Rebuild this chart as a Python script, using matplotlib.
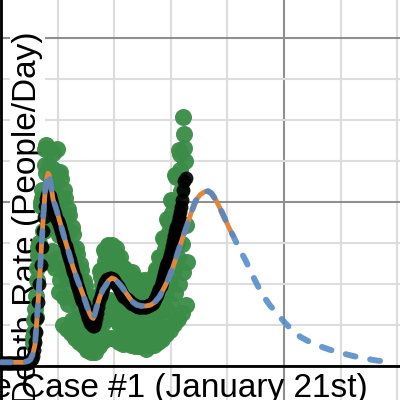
import numpy as np
import matplotlib
matplotlib.use('Agg')
import matplotlib.pyplot as plt
from matplotlib.ticker import MultipleLocator

plt.rcParams['font.family'] = ['Liberation Sans', 'DejaVu Sans']

# daily deaths (raw), days since Jan 21st, starting at day 56
green_start = 56
green_val = [
    280, 350, 420, 560, 700, 600, 850,
    1050, 1200, 1350, 1450, 1500, 1350, 1450,
    2000, 1950, 2050, 2150, 1950, 1650, 1650,
    2450, 2650, 2350, 2700, 1950, 1700, 1900,
    2650, 2450, 2300, 2150, 1850, 1250, 1400,
    2400, 2600, 2150, 1950, 1750, 1200, 1300,
    2250, 2650, 2350, 1850, 1600, 900, 1050,
    2370, 2280, 2040, 1770, 1190, 500, 840,
    2140, 2050, 1830, 1580, 1070, 450, 750,
    1920, 1840, 1640, 1420, 950, 400, 560,
    1690, 1610, 1430, 1230, 820, 340, 570,
    1440, 1370, 1210, 1050, 700, 290, 490,
    1240, 1170, 1040, 890, 590, 250, 410,
    1040, 980, 860, 740, 490, 200, 340,
    840, 790, 700, 600, 400, 170, 280,
    700, 670, 610, 540, 300, 170, 300,
    820, 850, 810, 750, 540, 240, 430,
    1160, 1170, 1090, 990, 690, 300, 530,
    1410, 1390, 1280, 1130, 780, 340, 580,
    1470, 1460, 1340, 1180, 800, 340, 590,
    1470, 1430, 1320, 1150, 780, 330, 570,
    1440, 1360, 1260, 1050, 740, 290, 510,
    1330, 1240, 1150, 960, 670, 270, 480,
    1180, 1190, 1020, 930, 600, 280, 430,
    1140, 1100, 990, 860, 590, 250, 300,
    1150, 1050, 940, 830, 560, 240, 410,
    1060, 990, 930, 780, 530, 240, 390,
    980, 1030, 870, 810, 520, 250, 380,
    1050, 960, 920, 770, 560, 210, 420,
    1010, 1040, 900, 830, 540, 260, 400,
    1070, 1050, 960, 860, 590, 260, 450,
    1180, 1160, 1070, 960, 660, 290, 500,
    1330, 1320, 1220, 1100, 770, 330, 590,
    1560, 1550, 1430, 1290, 900, 390, 680,
    1790, 1770, 1630, 1460, 1010, 440, 760,
    2030, 2010, 1860, 1670, 1160, 510, 890,
    2330, 2300, 1250, 1500, 1320, 570, 1000,
    2630, 2590, 2390, 2130, 1490, 650, 1140,
    3040, 2830, 2660, 2500, 1720, 740, 1270,
]

# smoothed deaths, every 2nd day from day 0
black_val = [
    40, 40, 40, 40, 40, 40, 40, 40, 40, 40,
    40, 40, 40, 40, 40, 40, 40, 40, 40, 40,
    40, 40, 40, 40, 40,
    45, 55, 80, 120, 190, 290, 420, 580, 780, 1000,
    1230, 1450, 1650, 1820, 1950, 2040, 2080, 2090, 2070, 2030,
    1980, 1930, 1890, 1850, 1810, 1770, 1730, 1690, 1650, 1610,
    1560, 1510, 1460, 1420, 1370, 1330, 1290, 1240, 1190, 1140,
    1090, 1040, 990, 950, 910, 870, 830, 790, 750, 710,
    670, 630, 590, 560, 530, 500, 485, 490, 520, 580,
    650, 720, 790, 850, 900, 950, 990, 1020, 1040, 1055,
    1065, 1070, 1070, 1065, 1055, 1040, 1020, 1000, 975, 950,
    925, 900, 875, 855, 840, 830, 815, 800, 790, 780,
    770, 760, 750, 742, 735, 728, 723, 720, 718, 716,
    716, 718, 720, 723, 727, 732, 738, 745, 755, 770,
    790, 815, 840, 870, 900, 935, 975, 1020, 1070, 1120,
    1170, 1220, 1260, 1300, 1350, 1400, 1460, 1520, 1580, 1640,
    1700, 1760, 1820, 1880, 1940, 2020, 2140, 2250, 2290,
]

# model curve (fit + projection)
model_day = [0, 40, 48, 52, 56, 60, 63, 66, 69, 72, 75, 78, 81, 83, 85, 88,
             92, 97, 104, 113, 120, 127, 134, 140, 146, 152, 156, 160, 163,
             166, 170, 175, 180, 185, 190, 196, 202, 208, 214, 220, 226, 232,
             240, 248, 256, 264, 272, 280, 288, 296, 304, 312, 320, 328, 336,
             344, 352, 360, 366, 372, 380, 388, 396, 404, 410, 422, 432, 442,
             452, 462, 475, 488, 500, 515, 530, 545, 560, 580, 600, 620, 640,
             660, 682]
model_val = [45, 45, 60, 80, 140, 256, 520, 820, 1170, 1520, 1850, 2130, 2293,
             2350, 2330, 2210, 2030, 1930, 1760, 1540, 1380, 1210, 1070, 960,
             850, 725, 650, 595, 580, 640, 740, 850, 930, 980, 1040, 1073,
             1055, 1010, 960, 900, 840, 785, 745, 732, 732, 742, 780, 845, 950,
             1065, 1210, 1375, 1545, 1700, 1870, 2015, 2090, 2125, 2132, 2105,
             2020, 1910, 1790, 1670, 1590, 1415, 1290, 1140, 1000, 870, 740,
             640, 540, 430, 350, 295, 250, 200, 160, 125, 95, 70, 50]
fit_end = 410

green_day = np.arange(green_start, green_start + len(green_val))
black_day = np.arange(0, 2 * len(black_val), 2)
model_day = np.array(model_day)
model_val = np.array(model_val)
fit = model_day <= fit_end

fig = plt.figure(figsize=(4, 4), dpi=100)
ax = fig.add_axes([0, 0, 1, 1])
ax.set_xlim(-1.77, 705)
ax.set_ylim(-415, 4463)

ax.xaxis.set_major_locator(MultipleLocator(500))
ax.xaxis.set_minor_locator(MultipleLocator(100))
ax.yaxis.set_major_locator(MultipleLocator(2000))
ax.yaxis.set_minor_locator(MultipleLocator(500))
ax.set_axisbelow(True)
ax.grid(which='minor', color='#dddddd', lw=1.5)
ax.grid(which='major', color='#8f8f8f', lw=1.5)
ax.tick_params(which='both', length=0, labelbottom=False, labelleft=False)
for s in ax.spines.values():
    s.set_visible(False)

ax.axhline(0, color='black', lw=2, zorder=1.6)
ax.axvline(0, color='black', lw=2, zorder=1.6)

ax.scatter(green_day, green_val, s=150, color='#3a8c46', alpha=0.95,
           linewidths=0, zorder=2)
ax.scatter(black_day, black_val, s=100, color='black', alpha=0.9,
           linewidths=0, zorder=3)
ax.plot(model_day[fit], model_val[fit], color='#e0873d', lw=3.5, zorder=4,
        solid_capstyle='round')
ax.plot(model_day, model_val, color='#4f86c6', lw=4.3, alpha=0.85,
        ls=(0, (1.67, 2.5)), dash_capstyle='round', zorder=5)

ax.text(36 / 400, 1 - 31 / 400, 'Death Rate (People/Day)', transform=ax.transAxes,
        rotation=90, rotation_mode='anchor', ha='right', va='baseline',
        fontsize=24, zorder=1.5, clip_on=False,
        bbox=dict(facecolor='white', edgecolor='none', pad=1.5))
ax.text(368 / 400, 3 / 400, 'Days Since Case #1 (January 21st)',
        transform=ax.transAxes, ha='right', va='baseline', fontsize=24,
        zorder=6, clip_on=False)

fig.savefig('out.png', dpi=100)
